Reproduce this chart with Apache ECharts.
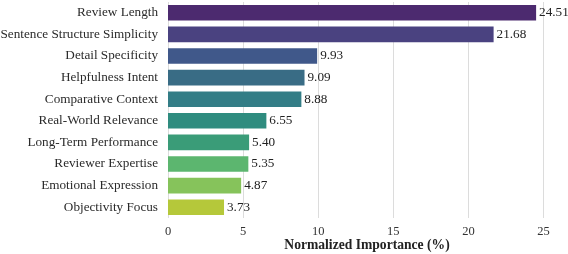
<!DOCTYPE html>
<html><head><meta charset="utf-8">
<script src="https://cdn.jsdelivr.net/npm/echarts@6/dist/echarts.min.js"></script>
<style>html,body{margin:0;padding:0;background:#fff}#c{width:568px;height:254px}</style>
</head><body><div id="c"></div>
<script>
const categories = ["Review Length","Sentence Structure Simplicity","Detail Specificity","Helpfulness Intent","Comparative Context","Real-World Relevance","Long-Term Performance","Reviewer Expertise","Emotional Expression","Objectivity Focus"];
const values = [24.51,21.68,9.93,9.09,8.88,6.55,5.40,5.35,4.87,3.73];
const colors = ["#4c2a6f","#4a4280","#40588a","#396c85","#337d86","#2f8c7f","#3a9c78","#5cb66f","#86c35b","#b5c83a"];
const xTicks = [0,5,10,15,20,25];
const F = "'Liberation Serif','Times New Roman',serif";
const chart = echarts.init(document.getElementById('c'));
chart.setOption({
  animation:false,
  grid:{left:168,right:2,top:2,bottom:36,containLabel:false,outerBoundsMode:'none'},
  xAxis:{type:'value',min:0,max:26.5,interval:5,
    name:'Normalized Importance (%)',nameLocation:'middle',nameGap:20,nameMoveOverlap:false,
    nameTextStyle:{fontFamily:F,fontWeight:'bold',fontSize:13.6,color:'#222'},
    axisLine:{show:false},axisTick:{show:false},
    axisLabel:{fontFamily:F,fontSize:12.5,color:'#333',margin:7,
      formatter:v=>xTicks.includes(v)?String(v):''},
    splitLine:{show:true,showMaxLine:false,lineStyle:{color:'#dcdcdc',width:1}}},
  yAxis:{type:'category',data:categories,inverse:true,
    axisLine:{show:false},axisTick:{show:false},
    axisLabel:{fontFamily:F,fontSize:13.2,color:'#2a2a2a',margin:10},
    splitLine:{show:false}},
  series:[{type:'bar',data:values.map((v,i)=>({value:v,itemStyle:{color:colors[i]}})),
    barWidth:'72%',
    label:{show:true,position:'right',distance:3,fontFamily:F,fontSize:13.2,color:'#222',
      formatter:p=>p.value.toFixed(2)}}]
});
</script></body></html>
